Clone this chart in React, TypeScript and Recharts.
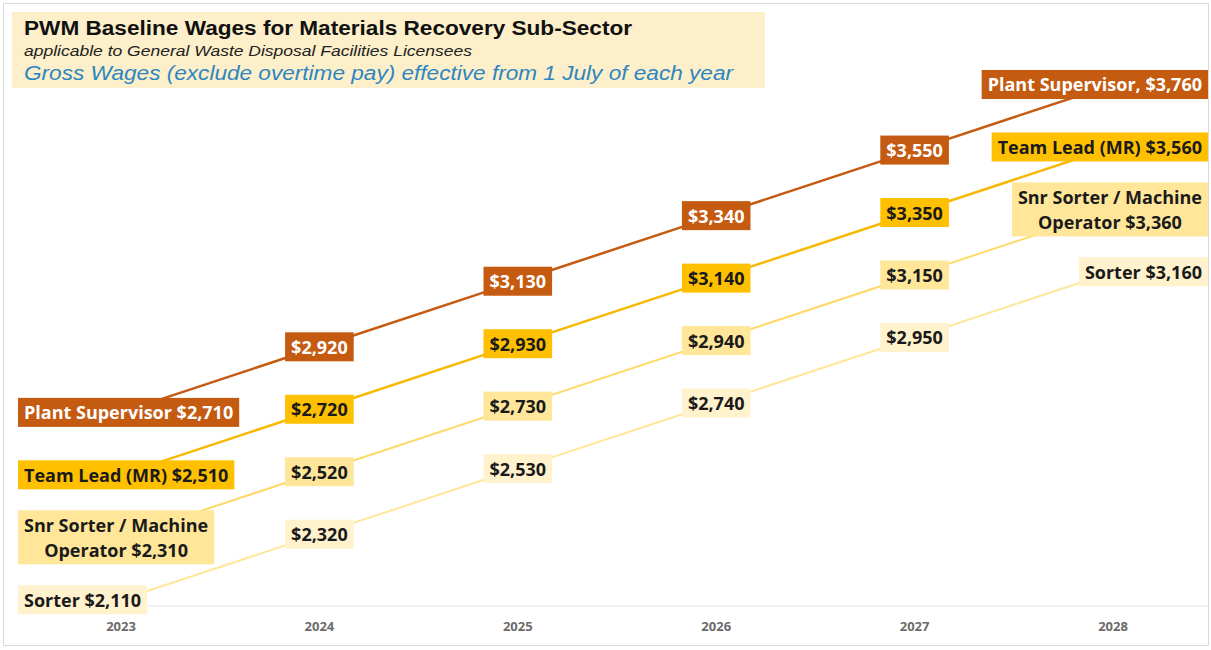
import { LineChart, Line, XAxis, YAxis, LabelList } from "recharts";

const years = ["2023", "2024", "2025", "2026", "2027", "2028"];
const plantSupervisor = [2710, 2920, 3130, 3340, 3550, 3760];
const teamLead = [2510, 2720, 2930, 3140, 3350, 3560];
const snrSorter = [2310, 2520, 2730, 2940, 3150, 3360];
const sorter = [2110, 2320, 2530, 2740, 2950, 3160];

const seriesKeys = ["plant", "team", "snr", "sorter"];
const startLabels = [["Plant Supervisor "], ["Team Lead (MR) "], ["Snr Sorter / Machine", "Operator "], ["Sorter "]];
const endLabels = [["Plant Supervisor, "], ["Team Lead (MR) "], ["Snr Sorter / Machine", "Operator "], ["Sorter "]];

const title = "PWM Baseline Wages for Materials Recovery Sub-Sector";
const subtitle = "applicable to General Waste Disposal Facilities Licensees";
const note = "Gross Wages (exclude overtime pay) effective from 1 July of each year";

const data = years.map((y, i) => ({
  year: y,
  plant: plantSupervisor[i],
  team: teamLead[i],
  snr: snrSorter[i],
  sorter: sorter[i],
}));

const STYLE = [
  { line: "#c55a11", box: "#c55a11", text: "#ffffff", width: 2.5 },
  { line: "#f7b900", box: "#ffc000", text: "#1a1a1a", width: 2.5 },
  { line: "#ffd966", box: "#ffe699", text: "#1a1a1a", width: 2 },
  { line: "#ffe699", box: "#fff2cc", text: "#1a1a1a", width: 2 },
];

const LABEL_FAMILY = "Open Sans";
const LABEL_SIZE = 18;
const ctx = typeof document !== "undefined" ? document.createElement("canvas").getContext("2d") : null;
function textWidth(s: string) {
  if (!ctx) return s.length * 10;
  ctx.font = `bold ${LABEL_SIZE}px "${LABEL_FAMILY}"`;
  return ctx.measureText(s).width;
}

const money = (v: number) => "$" + v.toLocaleString("en-US");

function makeLabel(si: number) {
  const st = STYLE[si];
  return (props: any) => {
    const { x, y, value, index } = props;
    const last = years.length - 1;
    let lines: string[];
    if (index === 0 || index === last) {
      const tpl = (index === 0 ? startLabels : endLabels)[si];
      lines = tpl.map((t, k) => (k === tpl.length - 1 ? t + money(value) : t));
    } else {
      lines = [money(value)];
    }
    const padX = 6;
    const lineH = 25;
    const w = Math.max(...lines.map(textWidth)) + padX * 2;
    const h = lines.length * lineH + 4;
    const left = index === 0 ? 18 : index === last ? 1208 - w : x - w / 2;
    const top = y - h / 2;
    return (
      <g>
        <rect x={left} y={top} width={w} height={h} fill={st.box} />
        {lines.map((l, k) => (
          <text
            key={k}
            x={left + w / 2}
            y={top + 2 + lineH * k + lineH / 2}
            textAnchor="middle"
            dominantBaseline="central"
            fontFamily={LABEL_FAMILY}
            fontWeight="bold"
            fontSize={LABEL_SIZE}
            fill={st.text}
          >
            {l}
          </text>
        ))}
      </g>
    );
  };
}

export default function App() {
  return (
    <div style={{ position: "absolute", left: 0, top: 0, width: 1211, height: 650, background: "#fff" }}>
      <LineChart
        width={1211}
        height={650}
        data={data}
        margin={{ top: 72, right: 3, bottom: 14, left: 20 }}
      >
        <XAxis
          dataKey="year"
          padding={{ left: 101, right: 95 }}
          height={30}
          stroke="#e6e6e6"
          tickLine={false}
          tick={{ fontSize: 13, fontFamily: "Open Sans", fontWeight: "bold", fill: "#6b6b6b" }}
          tickMargin={10}
        />
        <YAxis hide domain={[2090, 3800]} />
        {seriesKeys.map((k, si) => (
          <Line
            key={k}
            dataKey={k}
            stroke={STYLE[si].line}
            strokeWidth={STYLE[si].width}
            dot={false}
            isAnimationActive={false}
          >
            <LabelList dataKey={k} content={makeLabel(si)} />
          </Line>
        ))}
      </LineChart>
      <svg
        width={1211}
        height={650}
        style={{ position: "absolute", left: 0, top: 0, pointerEvents: "none" }}
      >
        <rect x={3.5} y={3.5} width={1205} height={642} fill="none" stroke="#d9d9d9" />
        <rect x={12} y={12} width={753} height={76} fill="#fcefc9" />
        <text x={24} y={35} fontFamily="Liberation Sans, Arial" fontWeight="bold" fontSize={20} fill="#111" textLength={608} lengthAdjust="spacingAndGlyphs">
          {title}
        </text>
        <text x={24} y={56} fontFamily="Liberation Sans, Arial" fontStyle="italic" fontSize={14} fill="#222" textLength={448} lengthAdjust="spacingAndGlyphs">
          {subtitle}
        </text>
        <text x={24} y={80} fontFamily="Liberation Sans, Arial" fontStyle="italic" fontSize={20} fill="#2e86c1" textLength={709} lengthAdjust="spacingAndGlyphs">
          {note}
        </text>
      </svg>
    </div>
  );
}
